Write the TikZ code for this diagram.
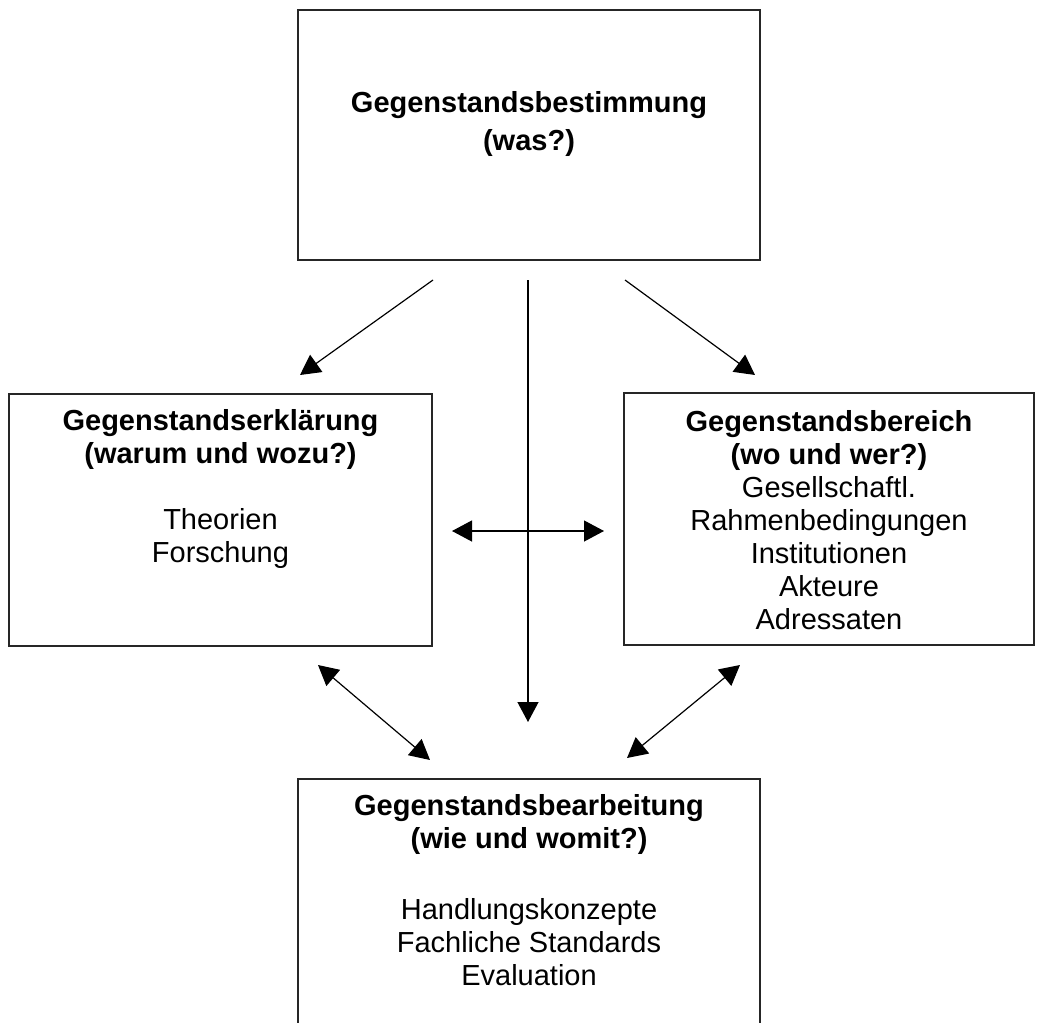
\documentclass[tikz,border=0pt]{standalone}
\usepackage{fontspec}
\setmainfont{Liberation Sans}
\usetikzlibrary{positioning,arrows.meta}

\tikzset{
  box/.style={draw=black!85,line width=1.6pt,inner sep=0pt},
  txt/.style={align=center,inner sep=0pt,font=\fontsize{29}{33}\selectfont},
  pfeil/.style={line width=1.2pt,-{Triangle[length=20pt,width=21pt]}},
  dpfeil/.style={line width=1.2pt,{Triangle[length=20pt,width=21pt]}-{Triangle[length=20pt,width=21pt]}}
}

\begin{document}
\begin{tikzpicture}[x=1pt,y=-1pt]
	\useasboundingbox (0,0) rectangle (1037,1023);
	\clip (0,0) rectangle (1037,1023);

	% die vier Kaesten
	\node[box,minimum width=462pt,minimum height=250pt] (best) at (529,135) {};
	\node[box,minimum width=423pt,minimum height=252pt] (erkl) at (220.5,520) {};
	\node[box,minimum width=410pt,minimum height=252pt] (ber) at (829,519) {};
	\node[box,minimum width=462pt,minimum height=300pt] (bearb) at (529,929) {};

	\node[txt,below=82pt of best.north] (bestT) {\textbf{Gegenstandsbestimmung}\\[5pt]\textbf{(was?)}};
	\node[txt,below=16pt of erkl.north] (erklT) {\textbf{Gegenstandserklärung}\\\textbf{(warum und wozu?)}\\[33pt]Theorien\\Forschung};
	\node[txt,below=18pt of ber.north] (berT) {\textbf{Gegenstandsbereich}\\\textbf{(wo und wer?)}\\Gesellschaftl.\\Rahmenbedingungen\\Institutionen\\Akteure\\Adressaten};
	\node[txt,below=16pt of bearb.north] (bearbT) {\textbf{Gegenstandsbearbeitung}\\\textbf{(wie und womit?)}\\[38pt]Handlungskonzepte\\Fachliche Standards\\Evaluation};

	% Enden der Pfeile
	\coordinate (a1) at (433,280);
	\coordinate (a2) at (300,375);
	\coordinate (b1) at (528,280);
	\coordinate (b2) at (528,722);
	\coordinate (c1) at (625,280);
	\coordinate (c2) at (755,375);
	\coordinate (d1) at (452,531);
	\coordinate (d2) at (604,531);
	\coordinate (e1) at (318,665);
	\coordinate (e2) at (430,760);
	\coordinate (f1) at (740,665);
	\coordinate (f2) at (627,758);

	\draw[pfeil] (a1) -- (a2);
	\draw[pfeil] (b1) -- (b2);
	\draw[pfeil] (c1) -- (c2);
	\draw[dpfeil] (d1) -- (d2);
	\draw[dpfeil] (e1) -- (e2);
	\draw[dpfeil] (f1) -- (f2);
\end{tikzpicture}
\end{document}
